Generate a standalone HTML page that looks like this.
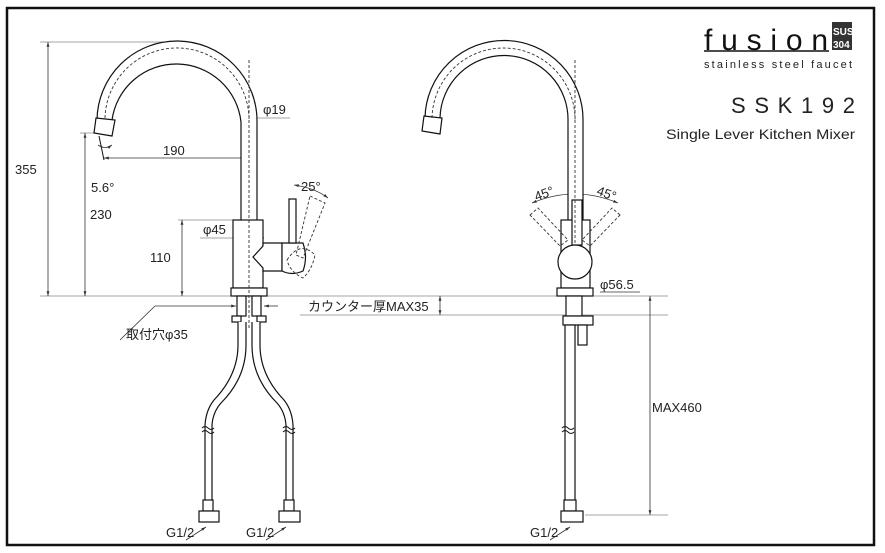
<!DOCTYPE html>
<html><head><meta charset="utf-8"><style>
html,body{margin:0;padding:0;background:#fff;}
svg{display:block;}
text{font-family:"Liberation Sans","Noto Sans CJK JP",sans-serif;fill:#222;}
</style></head><body>
<svg width="885" height="553" viewBox="0 0 885 553" xmlns="http://www.w3.org/2000/svg">
<defs>
<marker id="a" viewBox="0 0 10 10" refX="10" refY="5" markerWidth="6" markerHeight="6" orient="auto-start-reverse"><path d="M0,2 L10,5 L0,8 z" fill="#333"/></marker>
</defs>
<rect x="7" y="8" width="867" height="537" fill="none" stroke="#111" stroke-width="2.5"/>
<g stroke="#888" stroke-width="0.8" fill="none">
<line x1="40" y1="42" x2="165" y2="42"/>
<line x1="40" y1="296" x2="668" y2="296"/>
<line x1="300" y1="315" x2="668" y2="315"/>
<line x1="585" y1="515" x2="668" y2="515"/>
<line x1="80" y1="133" x2="100" y2="133"/>
<line x1="178" y1="220" x2="234" y2="220"/>
<line x1="256" y1="118" x2="290" y2="118"/>
<line x1="200" y1="238" x2="234" y2="238"/>
</g>
<g stroke="#333" stroke-width="0.8" fill="none">
<line x1="48" y1="42" x2="48" y2="296" marker-start="url(#a)" marker-end="url(#a)"/>
<line x1="85" y1="133" x2="85" y2="296" marker-start="url(#a)" marker-end="url(#a)"/>
<line x1="182" y1="220" x2="182" y2="296" marker-start="url(#a)" marker-end="url(#a)"/>
<line x1="104" y1="158" x2="246" y2="158" marker-start="url(#a)" marker-end="url(#a)"/>
<line x1="241" y1="118" x2="256" y2="118" marker-start="url(#a)" marker-end="url(#a)"/>
<line x1="234" y1="238" x2="264" y2="238" marker-start="url(#a)" marker-end="url(#a)"/>
<line x1="440" y1="296" x2="440" y2="315" marker-start="url(#a)" marker-end="url(#a)"/>
<line x1="650" y1="296" x2="650" y2="515" marker-start="url(#a)" marker-end="url(#a)"/>
<line x1="557" y1="292" x2="593" y2="292" marker-start="url(#a)" marker-end="url(#a)"/>
<path d="M294,185 Q315,188 328,198" marker-start="url(#a)" marker-end="url(#a)"/>
<path d="M98,145 Q105,150 112,145" marker-end="url(#a)"/>
<path d="M532,203 Q575,185 618,203" marker-start="url(#a)" marker-end="url(#a)"/>
<line x1="120" y1="340" x2="155" y2="306"/><line x1="155" y1="306" x2="236" y2="306" marker-end="url(#a)"/>
<line x1="278" y1="306" x2="264" y2="306" marker-end="url(#a)"/>
<line x1="186" y1="540" x2="206" y2="527" marker-end="url(#a)"/>
<line x1="266" y1="540" x2="286" y2="527" marker-end="url(#a)"/>
<line x1="550" y1="540" x2="570" y2="527" marker-end="url(#a)"/>
<line x1="600" y1="292" x2="640" y2="292"/>
</g>
<g stroke="#111" stroke-width="1.2" fill="#fff">
<path d="M241,220 L241,122 A65,65 0 0 0 112,120 L97,120 A80,80 0 0 1 257,122 L257,220"/>
<path d="M96,118 L115,120 L112,136 L94,133 Z"/>
<rect x="233" y="220" width="30" height="68"/>
<rect x="231" y="288" width="36" height="8"/>
<path d="M263,243 L282,243 L282,271 L263,271 L263,268 L253,257 L263,246 Z"/>
<path d="M282,243 L303,243 Q308,257 303,271 Q292,276 282,271 Z"/>
<rect x="289" y="199" width="7" height="44"/>
<rect x="237" y="296" width="9" height="20"/><rect x="252" y="296" width="9" height="20"/>
<rect x="232" y="316" width="9" height="6"/><rect x="257" y="316" width="9" height="6"/>
<path d="M238,322 L238,345 Q238,375 214,400 Q206,410 205,425 L205,512 L212,512 L212,425 Q213,412 221,403 Q246,378 246,345 L246,322"/>
<path d="M252,322 L252,345 Q252,378 277,403 Q285,412 286,425 L286,512 L293,512 L293,425 Q292,410 284,400 Q260,375 260,345 L260,322"/>
<rect x="203" y="500" width="10" height="11"/><rect x="284" y="500" width="10" height="11"/>
<rect x="199" y="511" width="20" height="11"/><rect x="279" y="511" width="21" height="11"/>
<path d="M568,220 L568,121 A64,64 0 0 0 440,118 L425,118 A79,79 0 0 1 583,121 L583,220"/>
<path d="M424,116 L442,118 L440,134 L422,131 Z"/>
<rect x="561" y="220" width="29" height="68"/>
<rect x="557" y="288" width="36" height="8"/>
<rect x="572" y="200" width="10" height="45"/>
<circle cx="575" cy="262" r="17"/>
<rect x="566" y="296" width="16" height="20"/>
<rect x="563" y="316" width="30" height="9"/>
<rect x="578" y="325" width="9" height="20"/>
<rect x="565" y="325" width="10" height="186"/>
<rect x="564" y="500" width="12" height="11"/>
<rect x="561" y="511" width="22" height="11"/>
</g>
<g stroke="#333" stroke-width="0.9" fill="none" stroke-dasharray="3,2">
<line x1="249" y1="60" x2="249" y2="330"/>
<path d="M105,118 A72,72 0 0 1 249,122" />
<line x1="575" y1="60" x2="575" y2="245"/>
<path d="M432,118 A71,71 0 0 1 575,121"/>
<path d="M310,196 L325,203 L303,258 L296,255 Z"/>
<path d="M287,260 Q300,240 315,255 Q312,270 303,278 Q290,272 287,260 Z"/>
<path d="M530,215 L538,208 L568,240 L560,246 Z"/>
<path d="M620,215 L612,208 L582,240 L590,246 Z"/>
</g>
<g stroke="#111" stroke-width="1" fill="none">
<path d="M202,428 q3,-3 6,0 q3,3 6,0 M202,432 q3,-3 6,0 q3,3 6,0"/>
<path d="M283,428 q3,-3 6,0 q3,3 6,0 M283,432 q3,-3 6,0 q3,3 6,0"/>
<path d="M562,428 q3,-3 6,0 q3,3 6,0 M562,432 q3,-3 6,0 q3,3 6,0"/>
<line x1="99" y1="136" x2="104" y2="160"/>
</g>
<g font-size="13">
<text x="15" y="174">355</text>
<text x="91" y="192">5.6°</text>
<text x="90" y="219">230</text>
<text x="150" y="262">110</text>
<text x="163" y="155">190</text>
<text x="263" y="114">φ19</text>
<text x="203" y="234">φ45</text>
<text x="301" y="191">25°</text>
<text x="534" y="198" transform="rotate(-20 544 193)">45°</text>
<text x="597" y="198" transform="rotate(20 607 193)">45°</text>
<text x="600" y="289">φ56.5</text>
<text x="126" y="339">取付穴φ35</text>
<text x="308" y="311">カウンター厚MAX35</text>
<text x="652" y="412">MAX460</text>
<text x="166" y="537">G1/2</text>
<text x="246" y="537">G1/2</text>
<text x="530" y="537">G1/2</text>
</g>
<text x="704" y="50" font-size="30" textLength="124" lengthAdjust="spacing" style="fill:#111">fusion</text>
<line x1="704" y1="51" x2="829" y2="51" stroke="#111" stroke-width="1.5"/>
<rect x="832" y="22" width="20" height="28" fill="#333"/>
<text x="833" y="35" font-size="10" style="fill:#fff;font-weight:bold">SUS</text>
<text x="833" y="48" font-size="10" style="fill:#fff;font-weight:bold">304</text>
<text x="704" y="68" font-size="11" textLength="148" lengthAdjust="spacing">stainless steel faucet</text>
<text x="731" y="113" font-size="22" textLength="124" lengthAdjust="spacing">SSK192</text>
<text x="666" y="139" font-size="14" textLength="189" lengthAdjust="spacingAndGlyphs">Single Lever Kitchen Mixer</text>
</svg>
</body></html>
